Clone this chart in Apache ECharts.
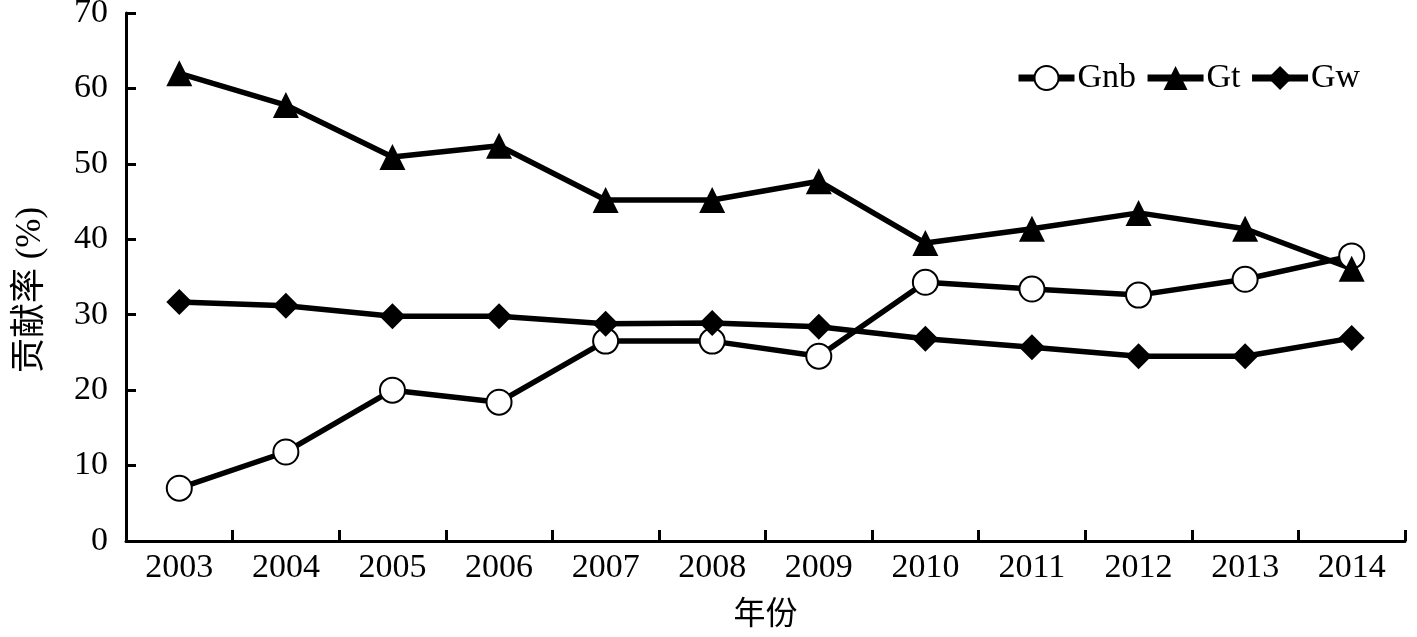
<!DOCTYPE html>
<html>
<head>
<meta charset="utf-8">
<script src="https://cdn.jsdelivr.net/npm/echarts@6/dist/echarts.min.js"></script>
<style>html,body{margin:0;padding:0;background:#fff}#c{width:1417px;height:637px}</style>
</head>
<body>
<div id="c"></div>
<script>
const years = ['2003','2004','2005','2006','2007','2008','2009','2010','2011','2012','2013','2014'];
const gnb = [7.0, 11.8, 20.0, 18.4, 26.5, 26.5, 24.5, 34.3, 33.4, 32.6, 34.7, 37.8];
const gt  = [62.0, 57.8, 50.9, 52.4, 45.2, 45.2, 47.7, 39.5, 41.4, 43.5, 41.4, 36.1];
const gw  = [31.7, 31.2, 29.8, 29.8, 28.8, 28.9, 28.4, 26.8, 25.7, 24.5, 24.5, 26.9];
const yTicks = [0, 10, 20, 30, 40, 50, 60, 70];

const serif = '"Liberation Serif", "Times New Roman", serif';
const cjk = '"Liberation Serif", "Noto Sans CJK SC", serif';
const chart = echarts.init(document.getElementById('c'), null, {renderer: 'canvas'});
function mk(name, data, symbol, size, fill) {
  return {
    name, type: 'line', data, symbol, symbolSize: size,
    lineStyle: {color: '#000', width: 5.5},
    itemStyle: {color: fill, borderColor: '#000', borderWidth: fill === '#fff' ? 2 : 0},
    animation: false, z: 3
  };
}
chart.setOption({
  backgroundColor: '#fff',
  animation: false,
  grid: {left: 126, top: 13, right: 12, bottom: 96, containLabel: false, outerBoundsMode: 'none'},
  legend: {
    left: 1010, top: 56, itemWidth: 56, itemHeight: 30, itemGap: 8,
    lineStyle: {width: 7, color: '#000'},
    textStyle: {fontFamily: serif, fontSize: 34, color: '#000', padding: [0,0,0,-2]},
    data: ['Gnb', 'Gt', 'Gw']
  },
  xAxis: {
    type: 'category', data: years, boundaryGap: true,
    name: '年份', nameLocation: 'middle', nameGap: 59,
    nameTextStyle: {fontFamily: cjk, fontSize: 32, color: '#000'},
    axisLine: {lineStyle: {color: '#000', width: 3}},
    axisTick: {show: true, inside: true, length: 11, lineStyle: {color: '#000', width: 3}},
    axisLabel: {fontFamily: serif, fontSize: 34, color: '#000', margin: 10}
  },
  yAxis: {
    type: 'value', min: yTicks[0], max: yTicks[yTicks.length-1], interval: 10,
    name: '贡献率 (%)', nameLocation: 'middle', nameGap: 78, nameRotate: 90,
    nameTextStyle: {fontFamily: cjk, fontSize: 35, color: '#000', padding: [0, 26, 0, 0]},
    axisLine: {show: true, lineStyle: {color: '#000', width: 3}},
    axisTick: {show: true, inside: true, length: 10, lineStyle: {color: '#000', width: 3}},
    axisLabel: {fontFamily: serif, fontSize: 34, color: '#000', margin: 18},
    splitLine: {show: false}
  },
  series: [
    mk('Gnb', gnb, 'circle', 25, '#fff'),
    mk('Gt', gt, 'triangle', 26, '#000'),
    mk('Gw', gw, 'diamond', 26, '#000')
  ]
});
</script>
</body>
</html>
